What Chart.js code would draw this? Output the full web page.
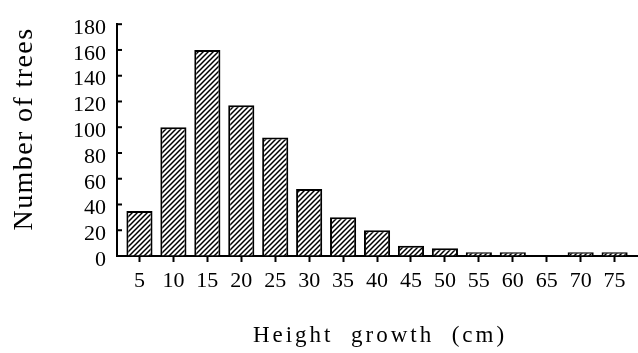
<!DOCTYPE html>
<html>
<head>
<meta charset="utf-8">
<script src="https://cdn.jsdelivr.net/npm/chart.js@4.4.1/dist/chart.umd.min.js"></script>
<style>
html,body{margin:0;padding:0;background:#fff;}
canvas{display:block;}
</style>
</head>
<body>
<canvas id="c" width="638" height="353"></canvas>
<script>
const categories = [5, 10, 15, 20, 25, 30, 35, 40, 45, 50, 55, 60, 65, 70, 75];
const treeCounts = [35, 100, 160, 117, 92, 52, 30, 20, 8, 6, 3, 3, 0, 3, 3];
const yTickValues = [0, 20, 40, 60, 80, 100, 120, 140, 160, 180];
const xTitle = 'Height  growth  (cm)';
const yTitle = 'Number of trees';

const FONT = "'Liberation Serif', 'DejaVu Serif', serif";

function hatchPattern() {
  const s = 5;
  const c = document.createElement('canvas');
  c.width = s; c.height = s;
  const g = c.getContext('2d');
  g.fillStyle = '#fff';
  g.fillRect(0, 0, s, s);
  g.strokeStyle = '#000';
  g.lineWidth = 1.5;
  g.beginPath();
  g.moveTo(-1, s + 1); g.lineTo(s + 1, -1);
  g.moveTo(-1, 1); g.lineTo(1, -1);
  g.moveTo(s - 1, s + 1); g.lineTo(s + 1, s - 1);
  g.stroke();
  return g.createPattern(c, 'repeat');
}

const ctx = document.getElementById('c').getContext('2d');

const innerTicks = {
  id: 'innerTicks',
  afterDraw(chart) {
    const y = chart.scales.y;
    const left = chart.chartArea.left;
    const c = chart.ctx;
    c.save();
    c.strokeStyle = '#000';
    c.lineWidth = 2;
    yTickValues.forEach(v => {
      const py = y.getPixelForValue(v);
      c.beginPath();
      c.moveTo(left, py);
      c.lineTo(left + 5, py);
      c.stroke();
    });
    c.restore();
  }
};

const axisTitles = {
  id: 'axisTitles',
  afterDraw(chart) {
    const c = chart.ctx;
    c.save();
    c.fillStyle = '#000';
    c.textAlign = 'center';
    c.textBaseline = 'alphabetic';
    c.font = '23px ' + FONT;
    if ('letterSpacing' in c) c.letterSpacing = '3px';
    c.fillText(xTitle, 380, 342);
    c.font = '28px ' + FONT;
    if ('letterSpacing' in c) c.letterSpacing = '1.4px';
    c.translate(32, 129);
    c.rotate(-Math.PI / 2);
    c.fillText(yTitle, 0, 0);
    c.restore();
  }
};

new Chart(ctx, {
  type: 'bar',
  data: {
    datasets: [{
      data: categories.map((c, i) => ({ x: c, y: treeCounts[i] })),
      backgroundColor: hatchPattern(),
      borderColor: '#000',
      borderWidth: 2,
      borderSkipped: 'bottom',
      categoryPercentage: 1,
      barPercentage: 0.77
    }]
  },
  options: {
    responsive: false,
    animation: false,
    layout: { padding: { top: 15, right: 1, left: 0, bottom: 0 } },
    plugins: { legend: { display: false }, tooltip: { enabled: false } },
    scales: {
      x: {
        type: 'linear',
        offset: false,
        min: 1.69,
        max: 78.3,
        afterBuildTicks(scale) { scale.ticks = categories.map(v => ({ value: v })); },
        afterFit(scale) { scale.height = 97; },
        grid: { offset: false, drawOnChartArea: false, drawTicks: true, tickLength: 6, tickColor: '#000', tickWidth: 2 },
        border: { display: true, color: '#000', width: 2 },
        ticks: { color: '#000', font: { family: FONT, size: 22 }, padding: 6, maxRotation: 0, autoSkip: false }
      },
      y: {
        min: 0,
        max: 180,
        afterBuildTicks(scale) { scale.ticks = yTickValues.map(v => ({ value: v })); },
        afterFit(scale) { scale.width = 117; },
        grid: { drawOnChartArea: false, drawTicks: false },
        border: { display: true, color: '#000', width: 2 },
        ticks: { color: '#000', font: { family: FONT, size: 22 }, padding: 11, labelOffset: 4, autoSkip: false }
      }
    }
  },
  plugins: [innerTicks, axisTitles]
});
</script>
</body>
</html>
